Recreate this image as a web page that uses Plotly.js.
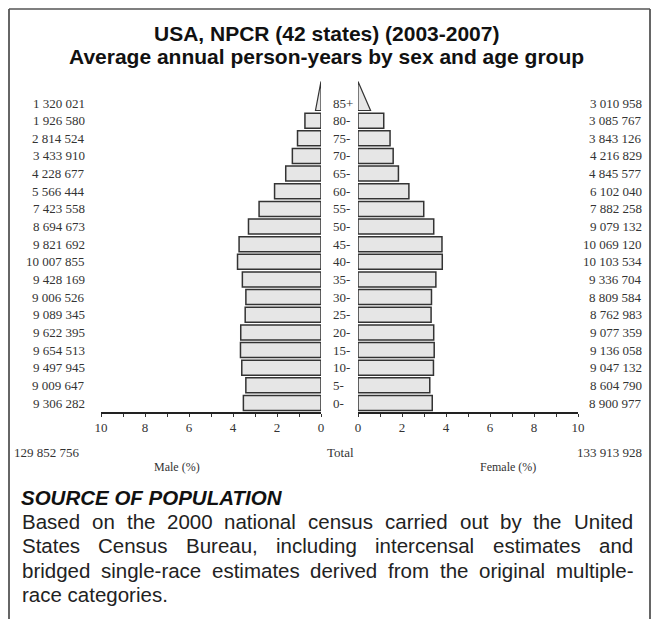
<!DOCTYPE html>
<html>
<head>
<meta charset="utf-8">
<script src="https://cdn.plot.ly/plotly-3.0.1.min.js"></script>
<style>
html,body{margin:0;padding:0;background:#fff;}
#chart{width:653px;height:619px;}
</style>
</head>
<body>
<div id="chart"></div>
<script>
// ---- data (bottom-up: 0- ... 85+) ----
const ageGroups = ['0-','5-','10-','15-','20-','25-','30-','35-','40-','45-','50-','55-','60-','65-','70-','75-','80-','85+'];
const maleValues = [9306282, 9009647, 9497945, 9654513, 9622395, 9089345, 9006526, 9428169, 10007855, 9821692, 8694673, 7423558, 5566444, 4228677, 3433910, 2814524, 1926580, 1320021];
const femaleValues = [8900977, 8604790, 9047132, 9136058, 9077359, 8762983, 8809584, 9336704, 10103534, 10069120, 9079132, 7882258, 6102040, 4845577, 4216829, 3843126, 3085767, 3010958];
const maleTotal = 129852756;
const femaleTotal = 133913928;
const xTickValues = [0, 2, 4, 6, 8, 10];
const titleLines = ['USA, NPCR (42 states) (2003-2007)', 'Average annual person-years by sex and age group'];
const sourceHeading = 'SOURCE OF POPULATION';
const sourceLines = [
  'Based on the 2000 national census carried out by the United',
  'States Census Bureau, including intercensal estimates and',
  'bridged single-race estimates derived from the original multiple-',
  'race categories.'
];

// ---- derived ----
const W = 653, H = 619;
const grand = maleTotal + femaleTotal;
const malePct = maleValues.map(v => v / grand * 100);
const femalePct = femaleValues.map(v => v / grand * 100);
const nRegular = ageGroups.length - 1;
const openIdx = ageGroups.length - 1;
const idx = ageGroups.map((_, i) => i);
const fmt = n => String(n).replace(/\B(?=(\d{3})+(?!\d))/g, ' ');

const px = x => x / W;
const py = y => 1 - y / H;

const serif = 'Liberation Serif';
const sans = 'Liberation Sans';
const BAR_FILL = '#e6e6e6';
const BAR_LINE = '#333333';
const barW = 0.85;
const triH = 1.65;

const regIdx = idx.slice(0, nRegular);

const traces = [
  {type:'bar', orientation:'h', x: malePct.slice(0, nRegular), y: regIdx, width: barW,
   xaxis:'x', yaxis:'y', marker:{color:BAR_FILL, line:{color:BAR_LINE, width:1.5}}, hoverinfo:'skip'},
  {type:'bar', orientation:'h', x: femalePct.slice(0, nRegular), y: regIdx, width: barW,
   xaxis:'x2', yaxis:'y2', marker:{color:BAR_FILL, line:{color:BAR_LINE, width:1.5}}, hoverinfo:'skip'},
  // open-ended group drawn as triangles
  {type:'scatter', mode:'lines', fill:'toself', fillcolor:BAR_FILL, line:{color:BAR_LINE, width:1.2},
   x:[0, 0, malePct[openIdx]/2, 0], y:[openIdx - barW/2 + triH, openIdx - barW/2, openIdx - barW/2, openIdx - barW/2 + triH],
   xaxis:'x', yaxis:'y', hoverinfo:'skip'},
  {type:'scatter', mode:'lines', fill:'toself', fillcolor:BAR_FILL, line:{color:BAR_LINE, width:1.2},
   x:[0, 0, femalePct[openIdx]/2, 0], y:[openIdx - barW/2 + triH, openIdx - barW/2, openIdx - barW/2, openIdx - barW/2 + triH],
   xaxis:'x2', yaxis:'y2', hoverinfo:'skip'}
];

// y geometry: 0- centre at pixel 403, 85+ centre at 103
const rowPx = (403 - 103) / openIdx;
const axisPx = 412, topPx = 70;
const yRange = [-(axisPx - 403) / rowPx, (403 - topPx) / rowPx];
const yDomain = [py(axisPx), py(topPx)];

const xAxisCommon = {
  tickmode:'array', tickvals:xTickValues, ticktext:xTickValues.map(String),
  ticks:'outside', ticklen:3, tickwidth:1, tickcolor:'#333',
  minor:{dtick:1, ticks:'outside', ticklen:3, tickwidth:1, tickcolor:'#333'},
  showline:true, linecolor:'#222', linewidth:1.5, showgrid:false, zeroline:false,
  tickfont:{family:serif, size:13, color:'#333'}, fixedrange:true
};
const yAxisCommon = {range:yRange, domain:yDomain, showline:false, showticklabels:false, ticks:'',
  showgrid:false, zeroline:false, fixedrange:true};

const ann = [];
function addText(text, x, y, opts) {
  ann.push(Object.assign({text:text, x:px(x), y:py(y), xref:'paper', yref:'paper', showarrow:false,
    xanchor:'left', yanchor:'middle', borderpad:0, font:{family:serif, size:13, color:'#333'}}, opts || {}));
}
// title
addText('<b>' + titleLines[0] + '</b>', 327, 34, {xanchor:'center', font:{family:sans, size:21, color:'#111'}});
addText('<b>' + titleLines[1] + '</b>', 327, 56, {xanchor:'center', font:{family:sans, size:21, color:'#111'}});
// age labels and counts
idx.forEach(i => {
  ann.push({text:ageGroups[i], x:px(332), y:i, xref:'paper', yref:'y', showarrow:false, xanchor:'left', yanchor:'middle',
    borderpad:0, font:{family:serif, size:13, color:'#333'}});
  ann.push({text:fmt(maleValues[i]), x:px(86), y:i, xref:'paper', yref:'y', showarrow:false, xanchor:'right', yanchor:'middle',
    borderpad:0, font:{family:serif, size:13, color:'#333'}});
  ann.push({text:fmt(femaleValues[i]), x:px(643), y:i, xref:'paper', yref:'y', showarrow:false, xanchor:'right', yanchor:'middle',
    borderpad:0, font:{family:serif, size:13, color:'#333'}});
});
addText(fmt(maleTotal), 13, 453);
addText(fmt(femaleTotal), 643, 453, {xanchor:'right'});
addText('Total', 340, 453, {xanchor:'center'});
addText('Male (%)', 177, 467, {xanchor:'center', font:{family:serif, size:12, color:'#333'}});
addText('Female (%)', 508, 467, {xanchor:'center', font:{family:serif, size:12, color:'#333'}});
// source
const srcSize = 20.5, srcLeft = 21, srcRight = 632;
addText('<b><i>' + sourceHeading + '</i></b>', 20, 497, {font:{family:sans, size:srcSize, color:'#111'}});
const ctx = document.createElement('canvas').getContext('2d');
ctx.font = srcSize + "px 'Liberation Sans'";
const lineY = [521, 545, 570, 594];
sourceLines.forEach((line, li) => {
  const words = line.split(' ');
  if (li === sourceLines.length - 1) {
    addText(line, srcLeft, lineY[li], {font:{family:sans, size:srcSize, color:'#222'}});
    return;
  }
  const widths = words.map(w => ctx.measureText(w).width);
  const total = widths.reduce((a, b) => a + b, 0);
  const gap = (srcRight - srcLeft - total) / (words.length - 1);
  let x = srcLeft;
  words.forEach((w, wi) => {
    addText(w, x, lineY[li], {font:{family:sans, size:srcSize, color:'#222'}});
    x += widths[wi] + gap;
  });
});

const layout = {
  width:W, height:H, margin:{l:0, r:0, t:0, b:0}, paper_bgcolor:'#fff', plot_bgcolor:'rgba(0,0,0,0)',
  showlegend:false, bargap:0,
  xaxis:Object.assign({}, xAxisCommon, {domain:[px(101), px(321)], range:[10, 0], anchor:'y'}),
  yaxis:Object.assign({}, yAxisCommon, {anchor:'x'}),
  xaxis2:Object.assign({}, xAxisCommon, {domain:[px(358), px(578)], range:[0, 10], anchor:'y2'}),
  yaxis2:Object.assign({}, yAxisCommon, {anchor:'x2'}),
  annotations:ann,
  shapes:[
    {type:'line', xref:'paper', yref:'paper', x0:px(9), x1:px(9), y0:py(9), y1:py(625), line:{color:'#333', width:1.5}},
    {type:'line', xref:'paper', yref:'paper', x0:px(650), x1:px(650), y0:py(9), y1:py(625), line:{color:'#333', width:1.5}},
    {type:'line', xref:'paper', yref:'paper', x0:px(9), x1:px(650), y0:py(9), y1:py(9), line:{color:'#555', width:1.5}}
  ]
};
Plotly.newPlot('chart', traces, layout, {staticPlot:true, displayModeBar:false});
</script>
</body>
</html>
